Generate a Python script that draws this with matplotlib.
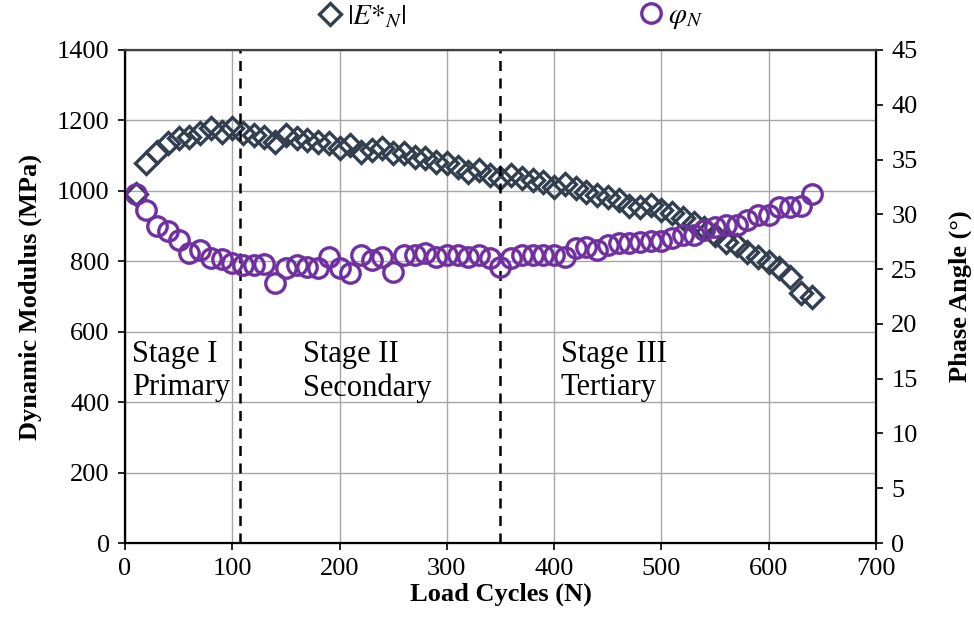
import matplotlib
matplotlib.use('Agg')
import matplotlib.pyplot as plt

plt.rcParams['font.family'] = ['Liberation Serif', 'DejaVu Serif']
plt.rcParams['mathtext.fontset'] = 'stix'

cycles = list(range(10, 650, 10))

modulus = [990, 1080, 1111, 1136, 1150, 1153, 1165, 1179, 1168, 1179,
           1165, 1159, 1153, 1139, 1159, 1150, 1145, 1139, 1136, 1122,
           1131, 1111, 1116, 1122, 1108, 1108, 1097, 1094, 1082, 1080,
           1068, 1054, 1060, 1045, 1037, 1045, 1036, 1031, 1026, 1011,
           1020, 1009, 997, 989, 983, 974, 957, 955, 960, 946,
           937, 923, 910, 895, 875, 855, 845, 827, 813, 798,
           780, 756, 710, 699]

phase = [31.9, 30.4, 28.9, 28.5, 27.7, 26.5, 26.7, 26.0, 25.9, 25.6,
         25.4, 25.4, 25.5, 23.7, 25.1, 25.4, 25.2, 25.1, 26.1, 25.1,
         24.6, 26.3, 25.8, 26.1, 24.7, 26.3, 26.3, 26.5, 26.1, 26.3,
         26.3, 26.1, 26.3, 26.0, 25.2, 26.0, 26.3, 26.3, 26.3, 26.3,
         26.1, 26.9, 27.0, 26.7, 27.2, 27.4, 27.4, 27.5, 27.6, 27.6,
         27.8, 28.1, 28.1, 28.6, 28.8, 29.0, 29.0, 29.5, 29.9, 29.9,
         30.7, 30.7, 30.8, 31.9]

stage_bounds = [107, 350]
stage_labels = ['Stage I\nPrimary', 'Stage II\nSecondary', 'Stage III\nTertiary']
stage_x = [7, 166, 406]

fig = plt.figure(figsize=(9.74, 6.25), dpi=100)
ax = fig.add_axes([0.1283, 0.1312, 0.7711, 0.7888])
ax2 = ax.twinx()

ax.grid(True, color='#a6a6a6', linewidth=1.0)
ax.set_axisbelow(True)

d1, = ax.plot(cycles, modulus, linestyle='none', marker='D', markersize=11,
              markerfacecolor='none', markeredgecolor='#333f4f', markeredgewidth=2.4)
c1, = ax2.plot(cycles, phase, linestyle='none', marker='o', markersize=14,
               markerfacecolor='none', markeredgecolor='#7030a0', markeredgewidth=2.4)

for xb in stage_bounds:
    ax.axvline(xb, color='black', linestyle=(0, (4, 3)), linewidth=1.8)

for xs, lab in zip(stage_x, stage_labels):
    ax.text(xs, 488, lab, fontsize=22, va='center', ha='left', linespacing=1.2)

ax.set_xlim(0, 700)
ax.set_ylim(0, 1400)
ax2.set_ylim(0, 45)
ax.set_xticks(range(0, 701, 100))
ax.set_yticks(range(0, 1401, 200))
ax2.set_yticks(range(0, 46, 5))

ax.tick_params(labelsize=19, direction='out', length=5, width=1.2, pad=6)
ax2.tick_params(labelsize=19, direction='out', length=5, width=1.2, pad=6)
for sp in ['left', 'bottom', 'right', 'top']:
    ax2.spines[sp].set_linewidth(1.6)
ax2.spines['top'].set_color('#404040')

ax.set_xlabel('Load Cycles (N)', fontsize=19, fontweight='bold', labelpad=2)
ax.set_ylabel('Dynamic Modulus (MPa)', fontsize=19, fontweight='bold', labelpad=11)
ax2.set_ylabel('Phase Angle (°)', fontsize=19, fontweight='bold', labelpad=22)

leg1 = fig.legend([d1], [r'$|E{*}_N|$'], loc='center left',
                  bbox_to_anchor=(315 / 974, 1 - 17 / 625), frameon=False,
                  fontsize=21, handletextpad=0.1, handlelength=1.0,
                  borderpad=0, borderaxespad=0)
leg2 = fig.legend([c1], [r'$\varphi_N$'], loc='center left',
                  bbox_to_anchor=(636 / 974, 1 - 17 / 625), frameon=False,
                  fontsize=21, handletextpad=0.1, handlelength=1.0,
                  borderpad=0, borderaxespad=0)

fig.savefig('out.png', dpi=100)
